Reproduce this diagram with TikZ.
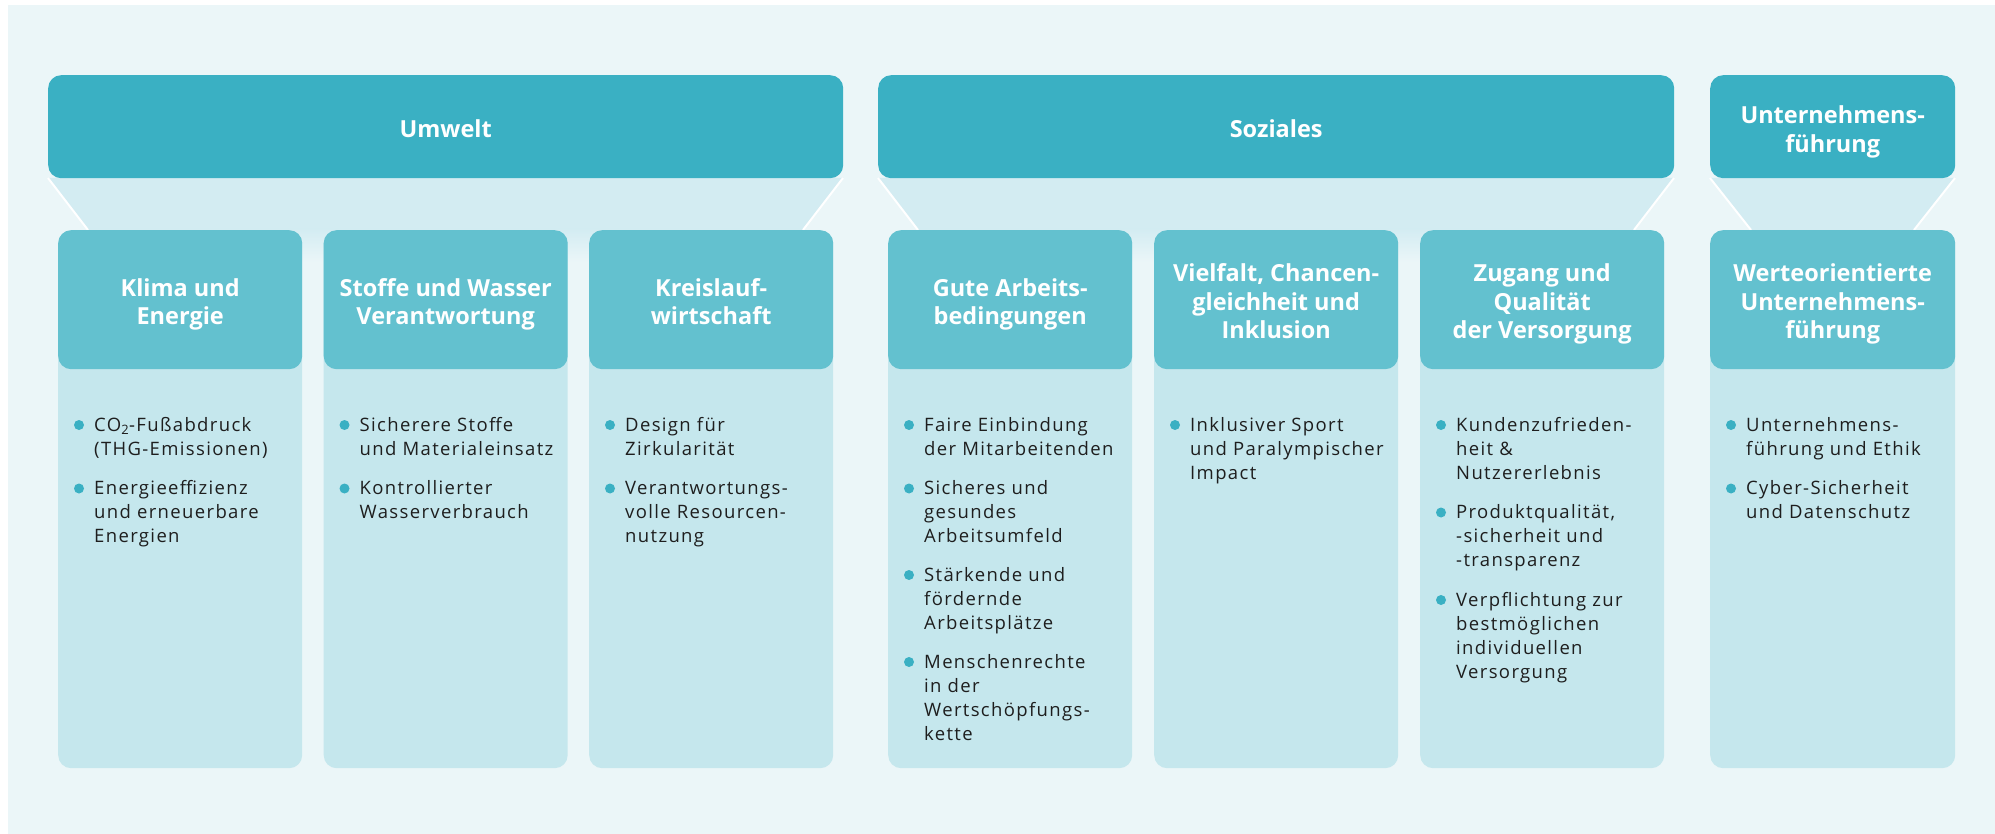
\documentclass[tikz,border=0pt]{standalone}
\usepackage{fontspec}
\setmainfont{Open Sans}
\newfontfamily\bodyfont[LetterSpace=7.3]{Open Sans}
\definecolor{panel}{HTML}{EBF6F8}
\definecolor{funnel}{HTML}{D3ECF2}
\definecolor{cardbody}{HTML}{C5E7ED}
\definecolor{cardhead}{HTML}{63C1CF}
\definecolor{hdr}{HTML}{3AB0C3}
\definecolor{txt}{HTML}{1E1E1E}
\newcommand{\itemtab}[1]{\begin{tabular}[t]{@{}l@{}}#1\end{tabular}}
\newcommand{\titletab}[1]{\begin{tabular}{@{}c@{}}#1\end{tabular}}
\tikzset{
  hdrbox/.style={fill=hdr, rounded corners=13pt, inner sep=0pt, anchor=north west, minimum height=103pt},
  bodybox/.style={fill=cardbody, rounded corners=13pt, inner sep=0pt, anchor=north west, minimum width=244pt, minimum height=538pt},
  headbox/.style={fill=cardhead, rounded corners=13pt, inner sep=0pt, anchor=north west, minimum width=244pt, minimum height=139pt},
  ttl/.style={text=white, font=\bfseries\fontsize{23.5}{28.5}\selectfont, inner sep=0pt},
  itm/.style={text=txt, font=\bodyfont\fontsize{18.5}{24.2}\selectfont, inner sep=0pt, anchor=base west},
  dot/.style={circle, fill=hdr, minimum size=10pt, inner sep=0pt},
  funnelline/.style={draw=white, line width=2pt}
}
\begin{document}
\begin{tikzpicture}[x=1pt,y=-1pt]
\useasboundingbox (0,0) rectangle (1995,834);
\fill[white] (0,0) rectangle (1995,834);
\fill[panel] (8,5) rectangle (1995,834);

% funnels
\fill[funnel] (48,178) -- (843,178) -- (803,230) -- (88,230) -- cycle;
\shade[top color=funnel, bottom color=panel] (88,229) rectangle (803,262);
\draw[funnelline] (48,178) -- (88,230);
\draw[funnelline] (843,178) -- (803,230);

\fill[funnel] (878,178) -- (1674,178) -- (1634,230) -- (918,230) -- cycle;
\shade[top color=funnel, bottom color=panel] (918,229) rectangle (1634,262);
\draw[funnelline] (878,178) -- (918,230);
\draw[funnelline] (1674,178) -- (1634,230);

\fill[funnel] (1710,178) -- (1955,178) -- (1914,230) -- (1751,230) -- cycle;
\draw[funnelline] (1710,178) -- (1751,230);
\draw[funnelline] (1955,178) -- (1914,230);

% headers
\node[hdrbox, minimum width=795pt] (hU) at (48,75) {};
\node[hdrbox, minimum width=796pt] (hS) at (878,75) {};
\node[hdrbox, minimum width=245pt] (hG) at (1710,75) {};
\node[ttl] (tU) at ([yshift=-5.5pt]hU.center) {\titletab{Umwelt}};
\node[ttl] (tS) at ([yshift=-5.5pt]hS.center) {\titletab{Soziales}};
\node[ttl] (tG) at ([yshift=-5.5pt]hG.center) {\titletab{Unternehmens-\\führung}};

% cards
\node[bodybox] (b1) at (58,230) {};
\node[bodybox] (b2) at (323.5,230) {};
\node[bodybox] (b3) at (589,230) {};
\node[bodybox] (b4) at (888,230) {};
\node[bodybox] (b5) at (1154,230) {};
\node[bodybox] (b6) at (1420,230) {};
\node[bodybox, minimum width=245pt] (b7) at (1710,230) {};

\node[headbox] (c1) at (58,230) {};
\node[headbox] (c2) at (323.5,230) {};
\node[headbox] (c3) at (589,230) {};
\node[headbox] (c4) at (888,230) {};
\node[headbox] (c5) at (1154,230) {};
\node[headbox] (c6) at (1420,230) {};
\node[headbox, minimum width=245pt] (c7) at (1710,230) {};

\node[ttl] (t1) at ([yshift=-5pt]c1.center) {\titletab{Klima und\\Energie}};
\node[ttl] (t2) at ([yshift=-5pt]c2.center) {\titletab{Stoffe und Wasser\\Verantwortung}};
\node[ttl] (t3) at ([yshift=-5pt]c3.center) {\titletab{Kreislauf-\\wirtschaft}};
\node[ttl] (t4) at ([yshift=-5pt]c4.center) {\titletab{Gute Arbeits-\\bedingungen}};
\node[ttl] (t5) at ([yshift=-5pt]c5.center) {\titletab{Vielfalt, Chancen-\\gleichheit und\\Inklusion}};
\node[ttl] (t6) at ([yshift=-5pt]c6.center) {\titletab{Zugang und\\Qualität\\der Versorgung}};
\node[ttl] (t7) at ([yshift=-5pt]c7.center) {\titletab{Werteorientierte\\Unternehmens-\\führung}};

% column 1
\node[dot] (d11) at (79,425) {};
\node[itm] (i11) at (94,431) {\itemtab{CO\textsubscript{2}-Fußabdruck\\(THG-Emissionen)}};
\node[dot] (d12) at (79,488.5) {};
\node[itm] (i12) at (94,494.5) {\itemtab{Energieeffizienz\\und erneuerbare\\Energien}};
% column 2
\node[dot] (d21) at (344.5,425) {};
\node[itm] (i21) at (359.5,431) {\itemtab{Sicherere Stoffe\\und Materialeinsatz}};
\node[dot] (d22) at (344.5,488.5) {};
\node[itm] (i22) at (359.5,494.5) {\itemtab{Kontrollierter\\Wasserverbrauch}};
% column 3
\node[dot] (d31) at (610,425) {};
\node[itm] (i31) at (625,431) {\itemtab{Design für\\Zirkularität}};
\node[dot] (d32) at (610,488.5) {};
\node[itm] (i32) at (625,494.5) {\itemtab{Verantwortungs-\\volle Resourcen-\\nutzung}};
% column 4
\node[dot] (d41) at (909,425) {};
\node[itm] (i41) at (924,431) {\itemtab{Faire Einbindung\\der Mitarbeitenden}};
\node[dot] (d42) at (909,488.5) {};
\node[itm] (i42) at (924,494.5) {\itemtab{Sicheres und\\gesundes\\Arbeitsumfeld}};
\node[dot] (d43) at (909,575) {};
\node[itm] (i43) at (924,581) {\itemtab{Stärkende und\\fördernde\\Arbeitsplätze}};
\node[dot] (d44) at (909,662) {};
\node[itm] (i44) at (924,668) {\itemtab{Menschenrechte\\in der\\Wertschöpfungs-\\kette}};
% column 5
\node[dot] (d51) at (1175,425) {};
\node[itm] (i51) at (1190,431) {\itemtab{Inklusiver Sport\\und Paralympischer\\Impact}};
% column 6
\node[dot] (d61) at (1441,425) {};
\node[itm] (i61) at (1456,431) {\itemtab{Kundenzufrieden-\\heit \&\\Nutzererlebnis}};
\node[dot] (d62) at (1441,512.5) {};
\node[itm] (i62) at (1456,518.5) {\itemtab{Produktqualität,\\-sicherheit und\\-transparenz}};
\node[dot] (d63) at (1441,600) {};
\node[itm] (i63) at (1456,606) {\itemtab{Verpflichtung zur\\bestmöglichen\\individuellen\\Versorgung}};
% column 7
\node[dot] (d71) at (1731,425) {};
\node[itm] (i71) at (1746,431) {\itemtab{Unternehmens-\\führung und Ethik}};
\node[dot] (d72) at (1731,488.5) {};
\node[itm] (i72) at (1746,494.5) {\itemtab{Cyber-Sicherheit\\und Datenschutz}};
\end{tikzpicture}
\end{document}
